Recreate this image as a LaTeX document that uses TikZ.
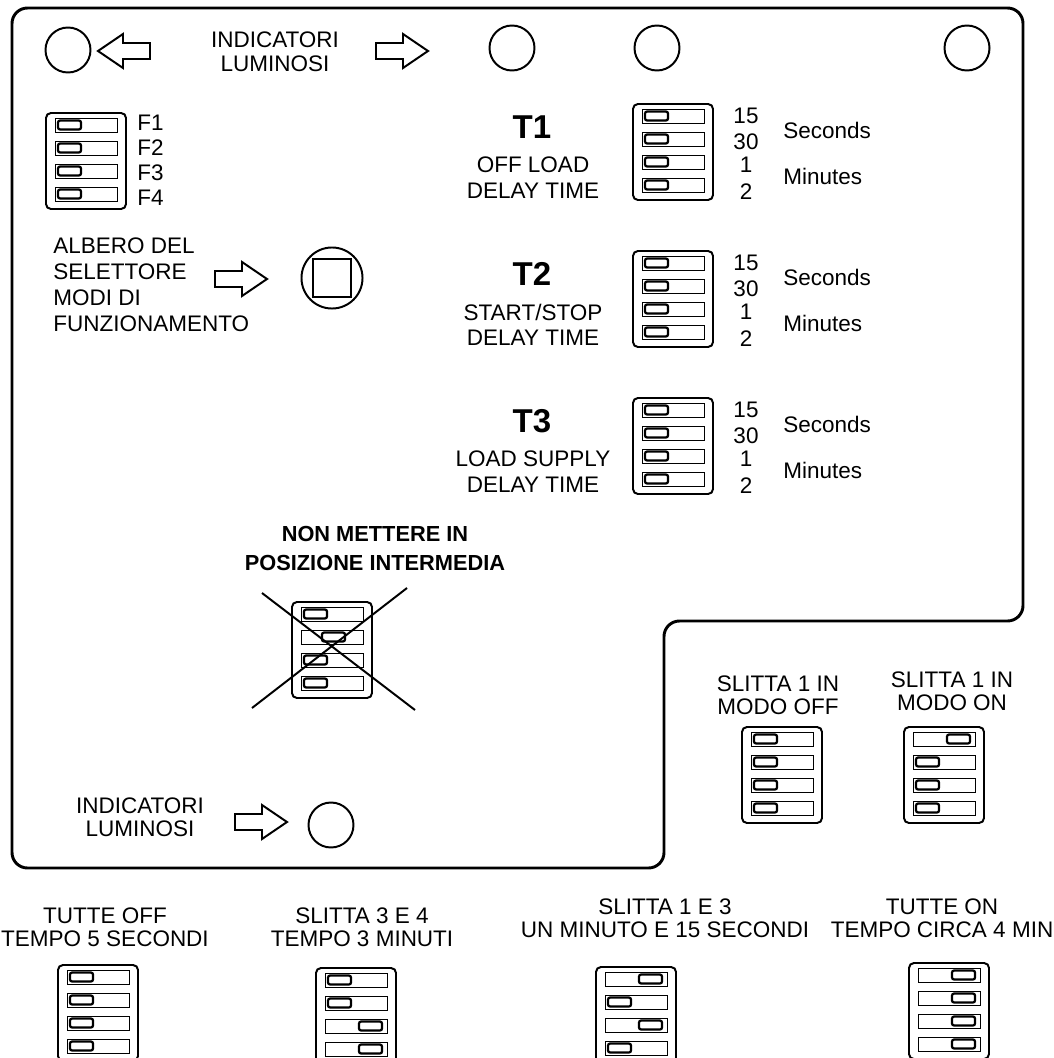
\documentclass[tikz,border=0pt]{standalone}
\usepackage{fontspec}
\setmainfont{Liberation Sans}

% one DIP switch: top left corner x, y and the knob offsets (0 left, 31 right)
\newcommand\dipsw[3]{%
  \draw[swbody] (#1,#2) rectangle ++(80,96);
  \foreach \k [count=\i from 0] in {#3}{
    \draw[slot] (#1+9,#2+5+23*\i) rectangle ++(62,14);
    \draw[knob] (#1+12+\k,#2+7.5+23*\i) rectangle ++(23,9);
  }}

\tikzset{
  frame/.style={line width=2.1pt, rounded corners=11pt},
  led/.style={draw, circle, line width=1.4pt, minimum size=32pt, inner sep=0},
  swbody/.style={line width=1.4pt, rounded corners=3.5pt},
  slot/.style={line width=0.6pt},
  knob/.style={line width=1.6pt, rounded corners=1.5pt},
  arrowline/.style={line width=1.4pt, line join=miter},
  lbl/.style={font=\fontsize{16}{17}\selectfont, inner sep=0, align=center},
  big/.style={font=\fontsize{23.5}{26}\bfseries\selectfont, inner sep=0},
  hollow arrow/.pic={\draw[arrowline] (0,-8) -- (27,-8) -- (27,-17) -- (52,0) -- (27,17) -- (27,8) -- (0,8) -- cycle;}
}

\begin{document}
\begin{tikzpicture}[x=0.025cm,y=-0.025cm]
\useasboundingbox (0,0) rectangle (1053,1058);

% panel outline
\draw[frame] (12,8) -- (1023,8) -- (1023,621) -- (664,621) -- (664,868) -- (12,868) -- cycle;

% indicator lights
\node[led] (led1) at (68,50) {};
\node[led] (led2) at (512,48) {};
\node[led] (led3) at (657,48) {};
\node[led] (led4) at (967,48) {};
\pic[xscale=-1] at (150,51) {hollow arrow};
\pic at (376,51) {hollow arrow};
\node[lbl, anchor=north] (indtop) at (275,32) {INDICATORI\\LUMINOSI};

% function switches
\dipsw{46}{113}{0,0,0,0}
\foreach \i in {1,...,4}
  \node[lbl, anchor=west] (f\i) at (137,98+25*\i) {F\i};

% selector shaft
\node[lbl, align=left, anchor=north west, font=\fontsize{16}{18.3}\selectfont] (shafttxt) at (53,238)
  {ALBERO DEL\\SELETTORE\\MODI DI\\FUNZIONAMENTO};
\pic at (215,279) {hollow arrow};
\node[led, minimum size=43.4pt] (shaft) at (332,278) {};
\node[draw, line width=1.4pt, minimum size=27pt, inner sep=0] (shaftsq) at (332,278) {};

% timers
\foreach \n/\top/\ta in {1/104/OFF LOAD, 2/251/{START/STOP}, 3/398/LOAD SUPPLY}{
  \node[big] (T\n) at (532,\top+23) {T\n};
  \node[lbl, anchor=north, font=\fontsize{16}{17.8}\selectfont] (desc\n) at (533,\top+53) {\ta\\DELAY TIME};
  \dipsw{633}{\top}{0,0,0,0}
  \foreach \v/\dy in {15/12,30/38,1/61,2/88}
    \node[lbl] (n\n-\v) at (746,\top+\dy) {\v};
  \node[lbl, anchor=west] (sec\n) at (783,\top+26) {Seconds};
  \node[lbl, anchor=west] (min\n) at (783,\top+72) {Minutes};
}

% no middle position
\node[lbl, anchor=north, font=\fontsize{15.5}{20.5}\bfseries\selectfont] (warn) at (375,526)
  {NON METTERE IN\\POSIZIONE INTERMEDIA};
\dipsw{292}{602}{0,18,0,0}
\coordinate (xa) at (262,593); \coordinate (xb) at (415,710);
\coordinate (xc) at (407,588); \coordinate (xd) at (252,708);
\draw[line width=1.4pt] (xa) -- (xb);
\draw[line width=1.4pt] (xc) -- (xd);

% lower indicator light
\node[lbl, anchor=north] (indbot) at (140,797) {INDICATORI\\LUMINOSI};
\pic at (235,822) {hollow arrow};
\node[led] (led5) at (331,825) {};

% slide 1
\node[lbl, anchor=north] (s1off) at (778,675) {SLITTA 1 IN\\MODO OFF};
\dipsw{742}{727}{0,0,0,0}
\node[lbl, anchor=north] (s1on) at (952,671) {SLITTA 1 IN\\MODO ON};
\dipsw{904}{727}{31,0,0,0}

% examples
\node[lbl, anchor=north] (ex1) at (105,907) {TUTTE OFF\\TEMPO 5 SECONDI};
\dipsw{58}{965}{0,0,0,0}
\node[lbl, anchor=north] (ex2) at (362,907) {SLITTA 3 E 4\\TEMPO 3 MINUTI};
\dipsw{316}{968}{0,0,31,31}
\node[lbl, anchor=north] (ex3) at (665,898) {SLITTA 1 E 3\\UN MINUTO E 15 SECONDI};
\dipsw{596}{967}{31,0,31,0}
\node[lbl, anchor=north] (ex4) at (942,898) {TUTTE ON\\TEMPO CIRCA 4 MIN};
\dipsw{909}{963}{31,31,31,31}
\end{tikzpicture}
\end{document}
